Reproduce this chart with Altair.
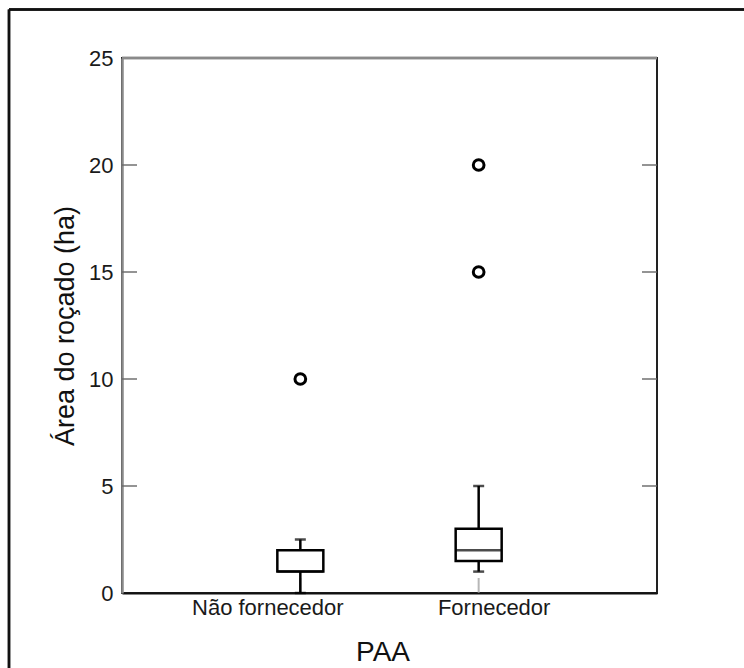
import altair as alt
import pandas as pd

# ---- data ----
categories = ["Não fornecedor", "Fornecedor"]
whisker_low = [0, 1]
q1 = [1, 1.5]
median = [1, 2]
q3 = [2, 3]
whisker_high = [2.5, 5]
outlier_group = ["Não fornecedor", "Fornecedor", "Fornecedor"]
outlier_values = [10, 15, 20]
y_tick_values = [0, 5, 10, 15, 20, 25]
inner_ticks = [5, 10, 15, 20]

FONT = "Liberation Sans"
W, H = 535, 535
Y_TITLE = "Área do roçado (ha)"
X_TITLE = "PAA"

box_df = pd.DataFrame({
    "PAA": categories, "lo": whisker_low, "q1": q1, "med": median,
    "q3": q3, "hi": whisker_high,
})
out_df = pd.DataFrame({"PAA": outlier_group, "v": outlier_values})
tick_df = pd.DataFrame({"t": inner_ticks})
cat_df = pd.DataFrame({"PAA": categories})

xscale = alt.Scale(type="point", domain=categories, padding=1)
yscale = alt.Scale(domain=[0, 25], nice=False, zero=True)

x_axis = alt.Axis(
    ticks=False, tickSize=0, domainColor="#111", domainWidth=2, grid=False,
    labelFont=FONT, labelFontSize=22, labelColor="#1a1a1a",
    labelBaseline="alphabetic", labelPadding=21,
    labelOffset={"condition": {"test": "datum.value === 'Fornecedor'", "value": 15}, "value": -33},
    titleFont=FONT, titleFontSize=28, titleFontWeight="normal", titleColor="#111",
    titleX=260.5, titleY=67, titleBaseline="alphabetic", titleAlign="center",
    labelAngle=0,
)
y_axis = alt.Axis(
    values=y_tick_values, ticks=False, tickSize=0, grid=False,
    domainColor="#8a8a8a", domainWidth=2.5,
    labelFont=FONT, labelFontSize=22, labelColor="#1a1a1a", labelPadding=9,
    titleFont=FONT, titleFontSize=27, titleFontWeight="normal", titleColor="#111",
    titleAngle=270, titleX=-49, titleY=267.5, titleAlign="center",
    titleBaseline="alphabetic",
)


def X():
    return alt.X("PAA:N", scale=xscale, axis=x_axis, title=X_TITLE)


def Y(field):
    return alt.Y(field, scale=yscale, axis=y_axis, title=Y_TITLE)


boxes = alt.Chart(box_df).mark_bar(
    size=46, fill="white", stroke="black", strokeWidth=2.5
).encode(x=X(), y=Y("q1:Q"), y2="q3:Q")
whisk_lo = alt.Chart(box_df).mark_rule(color="black", strokeWidth=2.5).encode(
    x=X(), y=Y("lo:Q"), y2="q1:Q")
whisk_hi = alt.Chart(box_df).mark_rule(color="black", strokeWidth=2.5).encode(
    x=X(), y=Y("q3:Q"), y2="hi:Q")
cap_hi = alt.Chart(box_df).mark_tick(color="black", size=11, thickness=2.5).encode(
    x=X(), y=Y("hi:Q"))
cap_lo = alt.Chart(box_df).mark_tick(color="black", size=11, thickness=2.5).encode(
    x=X(), y=Y("lo:Q"))
med = alt.Chart(box_df).mark_tick(color="black", size=46, thickness=2.5).encode(
    x=X(), y=Y("med:Q"))
outl = alt.Chart(out_df).mark_point(
    shape="circle", size=115, filled=False, stroke="black", strokeWidth=3, opacity=1
).encode(x=X(), y=Y("v:Q"))

ytick_l = alt.Chart(tick_df).mark_tick(color="#666", size=15, thickness=2, orient="horizontal").encode(
    y=Y("t:Q"), x=alt.value(7.5))
ytick_r = alt.Chart(tick_df).mark_tick(color="#666", size=15, thickness=2, orient="horizontal").encode(
    y=Y("t:Q"), x=alt.value(W - 7.5))
xtick = alt.Chart(cat_df).mark_tick(color="#999", size=15, thickness=2, orient="vertical").encode(
    x=X(), y=alt.value(H - 7.5))

top_line = alt.Chart(cat_df).mark_rule(color="#8a8a8a", strokeWidth=2.5).encode(
    x=alt.value(0), x2=alt.value(W), y=alt.value(0))
frame_top = alt.Chart(cat_df).mark_rule(color="#111", strokeWidth=2.5).encode(
    x=alt.value(-113), x2=alt.value(W + 200), y=alt.value(-48.5))
frame_left = alt.Chart(cat_df).mark_rule(color="#111", strokeWidth=2.5).encode(
    x=alt.value(-113), y=alt.value(-48.5), y2=alt.value(H + 200))

chart = alt.layer(
    boxes, top_line, frame_top, frame_left, ytick_l, ytick_r, xtick,
    whisk_lo, whisk_hi, med, cap_hi, cap_lo, outl,
).properties(
    width=W, height=H,
    padding={"left": 122, "top": 58, "right": 744 - 122 - W, "bottom": 668 - 58 - H},
    autosize=alt.AutoSizeParams(type="none"),
    background="white",
).configure_view(stroke="#222", strokeWidth=2)

chart.save("out.html", embed_options={"renderer": "svg", "actions": False})
